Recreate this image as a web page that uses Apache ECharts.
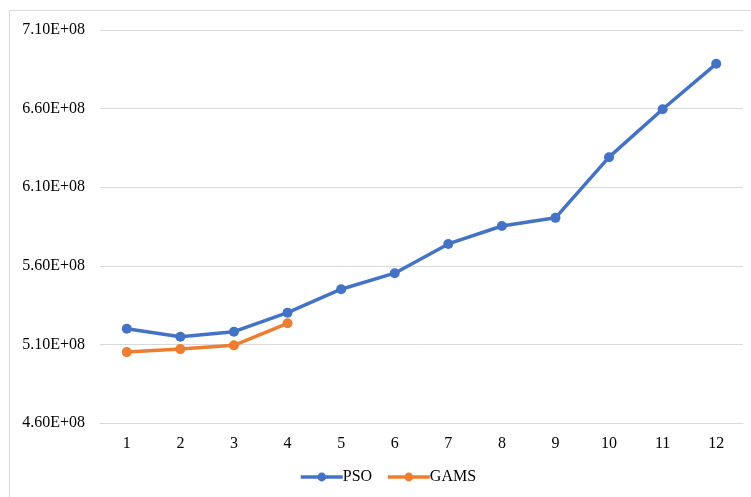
<!DOCTYPE html>
<html>
<head>
<meta charset="utf-8">
<script src="https://cdn.jsdelivr.net/npm/echarts@6/dist/echarts.min.js"></script>
<style>
html,body{margin:0;padding:0;background:#fff;}
#c{width:751px;height:497px;}
</style>
</head>
<body>
<div id="c"></div>
<script>
const categories = ['1','2','3','4','5','6','7','8','9','10','11','12'];
const psoValues = [520000000, 514900000, 518100000, 530200000, 545100000, 555300000, 573900000, 585300000, 590500000, 629100000, 659600000, 688500000];
const gamsValues = [505100000, 507000000, 509400000, 523400000];
const yTickMin = 460000000;
const yTickMax = 710000000;
const yTickStep = 50000000;

const chart = echarts.init(document.getElementById('c'), null, {renderer: 'canvas'});
const font = '"Liberation Serif", "Times New Roman", serif';
chart.setOption({
  animation: false,
  backgroundColor: '#fff',
  textStyle: {fontFamily: font},
  graphic: [
    {type: 'line', shape: {x1: 9.5, y1: 10.5, x2: 751, y2: 10.5}, style: {stroke: '#d9d9d9', lineWidth: 1}},
    {type: 'line', shape: {x1: 9.5, y1: 10.5, x2: 9.5, y2: 497}, style: {stroke: '#d9d9d9', lineWidth: 1}}
  ],
  grid: {left: 100, right: 8, top: 30, bottom: 74, containLabel: false},
  legend: {
    top: 464,
    left: 294,
    itemWidth: 42,
    itemHeight: 11,
    itemGap: 14,
    lineStyle: {width: 3.5},
    textStyle: {fontFamily: font, fontSize: 16, color: '#000', padding: [0,0,0,-5]},
    data: ['PSO', 'GAMS']
  },
  xAxis: {
    type: 'category',
    data: categories,
    boundaryGap: true,
    axisLine: {show: true, lineStyle: {color: '#d9d9d9', width: 1}},
    axisTick: {show: false},
    axisLabel: {fontFamily: font, fontSize: 16, color: '#000', margin: 13}
  },
  yAxis: {
    type: 'value',
    min: yTickMin,
    max: yTickMax,
    interval: yTickStep,
    axisLine: {show: false},
    axisTick: {show: false},
    splitLine: {lineStyle: {color: '#d9d9d9', width: 1}},
    axisLabel: {
      fontFamily: font, fontSize: 16, color: '#000', margin: 15,
      formatter: v => (v / 1e8).toFixed(2) + 'E+08'
    }
  },
  series: [
    {
      name: 'PSO', type: 'line', data: psoValues,
      symbol: 'circle', symbolSize: 10,
      lineStyle: {color: '#4472C4', width: 3.5},
      itemStyle: {color: '#4472C4'}
    },
    {
      name: 'GAMS', type: 'line', data: gamsValues,
      symbol: 'circle', symbolSize: 10,
      lineStyle: {color: '#ED7D31', width: 3.5},
      itemStyle: {color: '#ED7D31'}
    }
  ]
});
</script>
</body>
</html>
